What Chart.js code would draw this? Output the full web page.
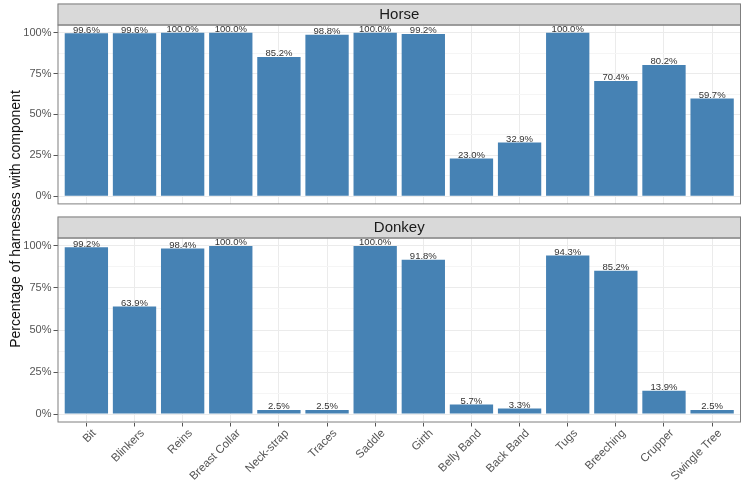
<!DOCTYPE html>
<html>
<head>
  <title>Harness components</title>
  <script src="https://cdn.jsdelivr.net/npm/chart.js"></script>
  <style>
    body { margin: 0; background: #fff; }
    #wrap { position: relative; width: 744px; height: 484px; background: #fff; }
    .panel { position: absolute; left: 0; width: 744px; }
    #ytitle {
      position: absolute; left: 15px; top: 219px; width: 320px;
      transform: translate(-50%, -50%) rotate(-90deg);
      text-align: center; font: 14px "Liberation Sans", Arial, sans-serif; color: #111;
      white-space: nowrap;
    }
  </style>
</head>
<body>
  <div id="wrap">
    <div class="panel" style="top:0;height:213px"><canvas id="horse" width="744" height="213"></canvas></div>
    <div class="panel" style="top:213px;height:271px"><canvas id="donkey" width="744" height="271"></canvas></div>
    <div id="ytitle">Percentage of harnesses with component</div>
  </div>

  <script>
    // data
    const categories = ["Bit", "Blinkers", "Reins", "Breast Collar", "Neck-strap", "Traces", "Saddle",
      "Girth", "Belly Band", "Back Band", "Tugs", "Breeching", "Crupper", "Swingle Tree"];
    const horseValues = [99.6, 99.6, 100.0, 100.0, 85.2, 98.8, 100.0, 99.2, 23.0, 32.9, 100.0, 70.4, 80.2, 59.7];
    const donkeyValues = [99.2, 63.9, 98.4, 100.0, 2.5, 2.5, 100.0, 91.8, 5.7, 3.3, 94.3, 85.2, 13.9, 2.5];
    const yTicks = [0, 25, 50, 75, 100];
    const yMinorTicks = [12.5, 37.5, 62.5, 87.5];

    const FONT = "'Liberation Sans', Arial, sans-serif";

    // strip header + panel border, ggplot theme_bw look
    const facetPlugin = {
      id: "facet",
      afterDraw(chart) {
        const a = chart.chartArea;
        const ctx = chart.ctx;
        const title = chart.options.plugins.facet.title;
        ctx.save();
        ctx.fillStyle = "#d9d9d9";
        ctx.fillRect(a.left, a.top - 21, a.right - a.left, 21);
        ctx.strokeStyle = "#7f7f7f";
        ctx.lineWidth = 1;
        ctx.strokeRect(a.left + 0.5, a.top - 21 + 0.5, a.right - a.left - 1, 21);
        ctx.strokeRect(a.left + 0.5, a.top + 0.5, a.right - a.left - 1, a.bottom - a.top - 1);
        ctx.fillStyle = "#1a1a1a";
        ctx.font = "15px " + FONT;
        ctx.textAlign = "center";
        ctx.textBaseline = "middle";
        ctx.fillText(title, (a.left + a.right) / 2, a.top - 10);
        ctx.restore();
      }
    };

    const barLabelPlugin = {
      id: "barLabels",
      afterDatasetsDraw(chart) {
        const ctx = chart.ctx;
        const values = chart.data.datasets[0].data;
        ctx.save();
        ctx.fillStyle = "#333";
        ctx.font = "9.5px " + FONT;
        ctx.textAlign = "center";
        ctx.textBaseline = "bottom";
        chart.getDatasetMeta(0).data.forEach((bar, i) => {
          ctx.fillText(values[i].y.toFixed(1) + "%", bar.x, bar.y + 1.5);
        });
        ctx.restore();
      }
    };

    function makeChart(id, title, values, showX) {
      const ctx = document.getElementById(id).getContext("2d");
      return new Chart(ctx, {
        type: "bar",
        data: {
          datasets: [{
            data: values.map((v, i) => ({ x: i + 1, y: v })),
            backgroundColor: "#4682b4",
            borderWidth: 0,
            barPercentage: 0.9,
            categoryPercentage: 1.0
          }]
        },
        options: {
          responsive: false,
          animation: false,
          layout: { padding: { top: 24.5, right: 3, left: 0, bottom: showX ? 0 : 2.5 } },
          plugins: {
            legend: { display: false },
            tooltip: { enabled: false },
            facet: { title: title }
          },
          scales: {
            x: {
              type: "linear",
              offset: false,
              min: 0.4,
              max: 14.6,
              afterBuildTicks: (s) => { s.ticks = categories.map((c, i) => ({ value: i + 1 })); },
              afterFit: (s) => { s.height = showX ? 61.5 : 0; },
              border: { display: false },
              grid: { offset: false, color: "#ebebeb", drawTicks: showX, tickLength: 4, tickColor: "#555" },
              ticks: {
                display: showX,
                autoSkip: false,
                minRotation: 45,
                maxRotation: 45,
                padding: 0,
                labelOffset: 8,
                color: "#555",
                font: { family: FONT, size: 11.5 },
                callback: (v) => categories[v - 1]
              }
            },
            y: {
              min: -5,
              max: 105,
              afterBuildTicks: (s) => {
                s.ticks = yTicks.concat(yMinorTicks).sort((a, b) => a - b).map(v => ({ value: v }));
              },
              afterFit: (s) => { s.width = 57.5; },
              border: { display: false },
              grid: {
                color: (c) => yTicks.includes(c.tick.value) ? "#ebebeb" : "#f5f5f5",
                tickColor: (c) => yTicks.includes(c.tick.value) ? "#555" : "rgba(0,0,0,0)",
                tickLength: 4
              },
              ticks: {
                padding: 2,
                color: "#555",
                font: { family: FONT, size: 11 },
                callback: (v) => yTicks.includes(v) ? v + "%" : ""
              }
            }
          }
        },
        plugins: [facetPlugin, barLabelPlugin]
      });
    }

    makeChart("horse", "Horse", horseValues, false);
    makeChart("donkey", "Donkey", donkeyValues, true);
  </script>
</body>
</html>
